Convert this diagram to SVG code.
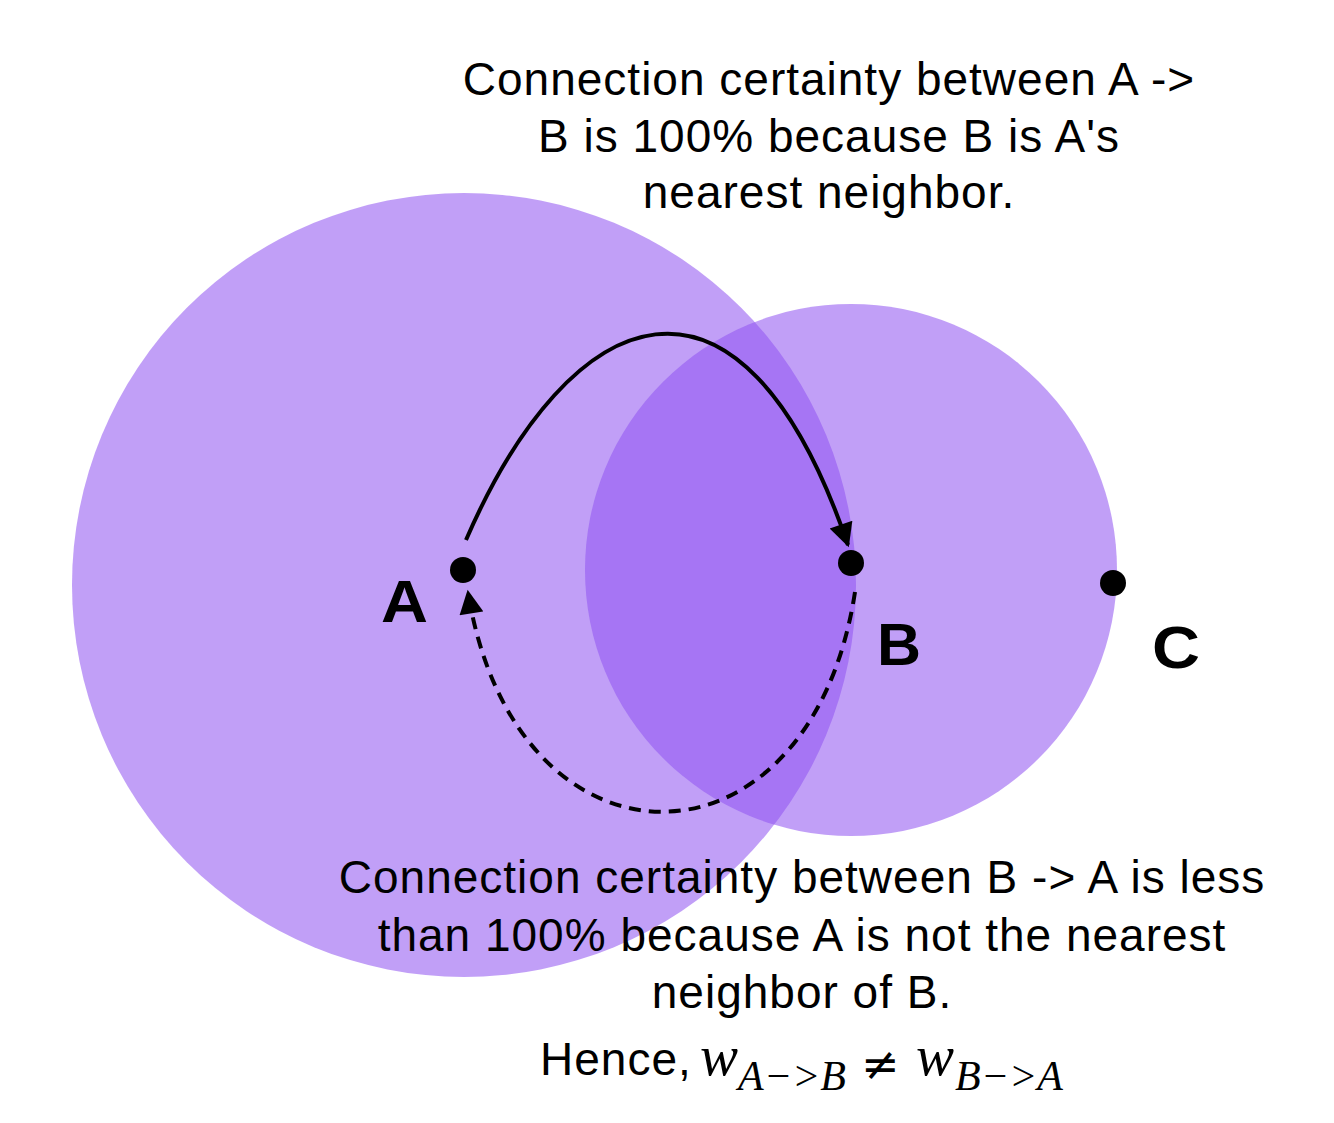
<svg xmlns="http://www.w3.org/2000/svg" width="1334" height="1123" viewBox="0 0 1334 1123">
<defs>
<style>
.circ{fill:#9054f1;fill-opacity:0.56}
.dot{fill:#000}
.lbl{font-family:"Liberation Sans",Arial,sans-serif;font-weight:bold;font-size:60px;fill:#000}
.txt{font-family:"Liberation Sans",Arial,sans-serif;font-size:46px;letter-spacing:1px;fill:#000;text-anchor:middle}
.math{font-family:"Liberation Serif","Times New Roman",serif;font-style:italic;fill:#000}
.edge{fill:none;stroke:#000;stroke-width:4}
</style>
<marker id="ah" viewBox="0 0 10 10" refX="9" refY="5" markerWidth="6.5" markerHeight="6" markerUnits="strokeWidth" orient="auto">
<path d="M0,0 L10,5 L0,10 z" fill="#000"/>
</marker>
</defs>
<rect width="1334" height="1123" fill="#fff"/>
<g id="circle-A"><circle class="circ" cx="464" cy="585" r="392"/></g>
<g id="circle-B"><circle class="circ" cx="851" cy="570" r="266"/></g>
<g id="node-A"><circle class="dot" cx="463" cy="570" r="13"/><text class="lbl" x="381" y="622" textLength="47" lengthAdjust="spacingAndGlyphs">A</text></g>
<g id="node-B"><circle class="dot" cx="851" cy="563" r="13"/><text class="lbl" x="877" y="665" textLength="44" lengthAdjust="spacingAndGlyphs">B</text></g>
<g id="node-C"><circle class="dot" cx="1113" cy="583" r="13"/><text class="lbl" x="1152" y="668" textLength="48" lengthAdjust="spacingAndGlyphs">C</text></g>
<g id="connectors">
<path class="edge" d="M466,540 C570,300 740,230 848,545" marker-end="url(#ah)"/>
<path class="edge" d="M855,592 C810,885 515,885 468,592" stroke-dasharray="12,8" marker-end="url(#ah)"/>
</g>
<g id="top-text">
<text class="txt" x="829" y="95">Connection certainty between A -&gt;</text>
<text class="txt" x="829" y="152">B is 100% because B is A's</text>
<text class="txt" x="829" y="208">nearest neighbor.</text>
</g>
<g id="bottom-text">
<text class="txt" x="802" y="893">Connection certainty between B -&gt; A is less</text>
<text class="txt" x="802" y="951">than 100% because A is not the nearest</text>
<text class="txt" x="802" y="1008">neighbor of B.</text>
<text x="540" y="1075" style="font-family:'Liberation Sans',Arial,sans-serif;font-size:46px;letter-spacing:1px">Hence,</text>
<text class="math" x="700" y="1075" font-size="57">w</text>
<text class="math" x="738" y="1090" font-size="42">A−&gt;B</text>
<text x="861" y="1080" font-family="'DejaVu Sans',sans-serif" font-size="46">≠</text>
<text class="math" x="916" y="1075" font-size="57">w</text>
<text class="math" x="955" y="1090" font-size="42">B−&gt;A</text>
</g>
</svg>
